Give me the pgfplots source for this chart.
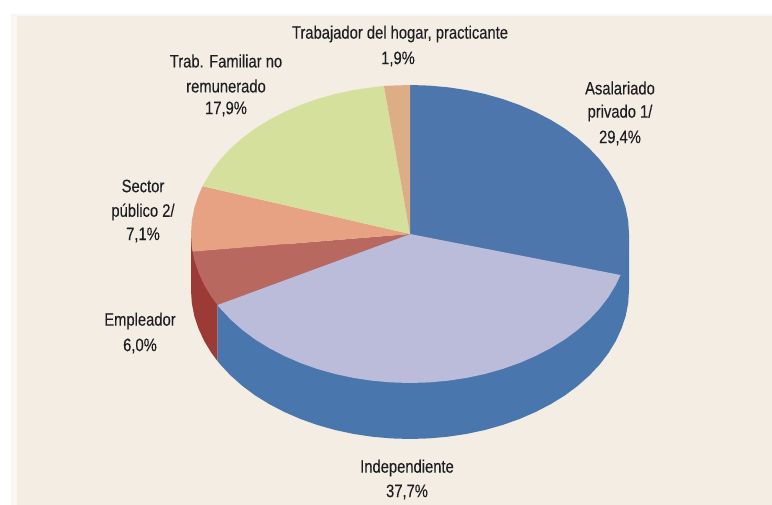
\documentclass[border=0pt]{standalone}
\usepackage{pgfplots}
\pgfplotsset{compat=1.18}
\usepackage{fontspec}
\setmainfont[FakeStretch=0.82,FakeBold=0.15]{Liberation Sans}
\definecolor{bgc}{HTML}{F4EDE4}
\definecolor{bgs}{HTML}{FAF6F3}
\definecolor{asal}{HTML}{4C76AC}
\definecolor{wallb}{HTML}{4A76AE}
\definecolor{indep}{HTML}{BABCD9}
\definecolor{empl}{HTML}{B9685F}
\definecolor{wallr}{HTML}{9C3A35}
\definecolor{sect}{HTML}{E7A283}
\definecolor{trab}{HTML}{D4E09C}
\definecolor{hogar}{HTML}{DDAD85}
\definecolor{txt}{HTML}{1E1E22}
\begin{document}
\begin{tikzpicture}
\path[use as bounding box] (0,0) rectangle (772pt,505pt);
\begin{axis}[
  anchor=south west, at={(0,0)},
  width=772pt, height=505pt, scale only axis,
  xmin=0, xmax=772, ymin=0, ymax=505, y dir=reverse,
  hide axis, clip=false,
  every axis plot/.append style={no markers, draw=none, forget plot},
]
% page and panel
\addplot[fill=white] coordinates {(0,0) (772,0) (772,505) (0,505)} -- cycle;
\addplot[fill=bgs] coordinates {(11,14) (790,14) (790,525) (11,525)} -- cycle;
\addplot[fill=bgc] coordinates {(17,16) (790,16) (790,525) (17,525)} -- cycle;
% blue wall
\addplot[fill=wallb] coordinates {(410,234) (629,234) (629,290) (628.2,303) (625.7,315.9) (621.5,328.6) (615.8,341) (608.5,353) (599.7,364.5) (589.4,375.5) (577.8,385.8) (564.9,395.4) (550.8,404.1) (535.6,412) (519.5,419) (502.6,425) (484.9,430) (466.7,433.9) (448,436.7) (429.1,438.4) (410,439) (390.9,438.4) (372,436.7) (353.3,433.9) (335.1,430) (317.4,425) (300.5,419) (284.4,412) (269.2,404.1) (255.1,395.4) (242.2,385.8) (230.6,375.5) (220.3,364.5) (217.4,360.9) (217.4,304.9)} -- cycle;
% red wall
\addplot[fill=wallr] coordinates {(217.4,304.9) (217.4,360.9) (211.5,353) (204.2,341) (198.5,328.6) (194.3,315.9) (191.8,303) (191,290) (191,234) (300,234)} -- cycle;
% Asalariado top
\addplot[fill=asal] coordinates {(410,234) (410,85) (429.1,85.6) (448,87.3) (466.7,90.1) (484.9,94) (502.6,99) (519.5,105) (535.6,112) (550.8,119.9) (564.9,128.6) (577.8,138.2) (589.4,148.5) (599.7,159.5) (608.5,171) (615.8,183) (621.5,195.4) (625.7,208.1) (628.2,221) (629,234) (628.2,247) (625.7,259.9) (621.5,272.6) (620.5,275)} -- cycle;
% Independiente top
\addplot[fill=indep] coordinates {(410,234) (620.5,275) (615.8,285) (608.5,297) (599.7,308.5) (589.4,319.5) (577.8,329.8) (564.9,339.4) (550.8,348.1) (535.6,356) (519.5,363) (502.6,369) (484.9,374) (466.7,377.9) (448,380.7) (429.1,382.4) (410,383) (390.9,382.4) (372,380.7) (353.3,377.9) (335.1,374) (317.4,369) (300.5,363) (284.4,356) (269.2,348.1) (255.1,339.4) (242.2,329.8) (230.6,319.5) (220.3,308.5) (217.4,304.9)} -- cycle;
% Empleador top
\addplot[fill=empl] coordinates {(410,234) (217.4,304.9) (211.5,297) (204.2,285) (198.5,272.6) (194.3,259.9) (192.6,251.7)} -- cycle;
% Sector top
\addplot[fill=sect] coordinates {(410,234) (192.6,251.7) (191.8,247) (191,234) (191.8,221) (194.3,208.1) (198.5,195.4) (202.6,186.2)} -- cycle;
% Trab. familiar top
\addplot[fill=trab] coordinates {(410,234) (202.6,186.2) (204.2,183) (211.5,171) (220.3,159.5) (230.6,148.5) (242.2,138.2) (255.1,128.6) (269.2,119.9) (284.4,112) (300.5,105) (317.4,99) (335.1,94) (353.3,90.1) (372,87.3) (384,86)} -- cycle;
% Hogar top
\addplot[fill=hogar] coordinates {(410,234) (384,86) (390.9,85.6) (410,85)} -- cycle;
\end{axis}
\begin{scope}[every node/.style={text=txt, font=\fontsize{18}{22}\selectfont, inner sep=0pt, anchor=center}]
\newcommand{\lab}[3]{\node at (#1pt,505pt-#2pt) {#3};}
\lab{400}{34}{Trabajador del hogar, practicante}
\lab{398}{59}{1,9\%}
\lab{226}{61}{Trab. Familiar no}
\lab{226}{86}{remunerado}
\lab{226}{109}{17,9\%}
\lab{143}{186}{Sector}
\lab{143}{212}{público 2/}
\lab{143}{235}{7,1\%}
\lab{140}{321}{Empleador}
\lab{140}{346}{6,0\%}
\lab{407}{468}{Independiente}
\lab{407}{492}{37,7\%}
\lab{620}{88}{Asalariado}
\lab{620}{113}{privado 1/}
\lab{620}{138}{29,4\%}
\end{scope}
\end{tikzpicture}
\end{document}
